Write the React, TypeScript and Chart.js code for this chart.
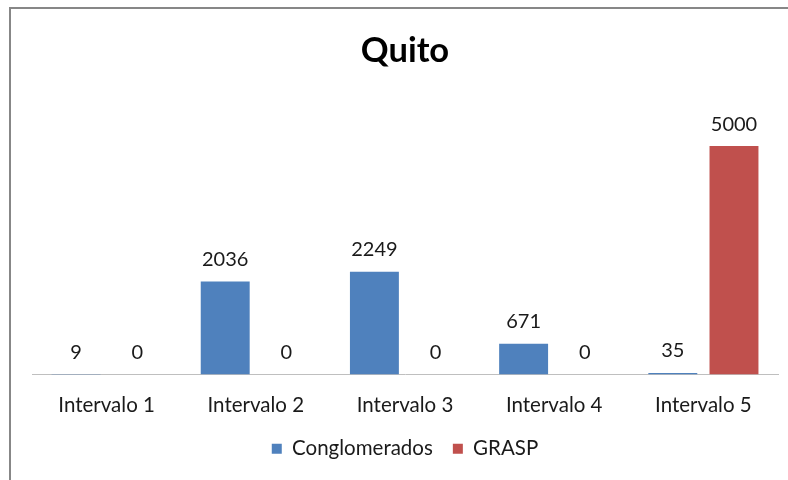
import React, { useEffect, useRef } from "react";
import { Chart, registerables } from "chart.js";

Chart.register(...registerables);

const categories = ["Intervalo 1", "Intervalo 2", "Intervalo 3", "Intervalo 4", "Intervalo 5"];
const conglomerados = [9, 2036, 2249, 671, 35];
const grasp = [0, 0, 0, 0, 5000];
const seriesNames = ["Conglomerados", "GRASP"];
const chartTitle = "Quito";

const FONT = "Lato, 'Noto Sans', sans-serif";

const valueLabels = {
  id: "valueLabels",
  afterDatasetsDraw(chart: any) {
    const ctx = chart.ctx;
    ctx.save();
    ctx.font = `20px ${FONT}`;
    ctx.fillStyle = "#1a1a1a";
    ctx.textAlign = "center";
    ctx.textBaseline = "middle";
    chart.data.datasets.forEach((ds: any, i: number) => {
      const meta = chart.getDatasetMeta(i);
      meta.data.forEach((el: any, j: number) => {
        ctx.fillText(String(ds.data[j]), el.x, el.y - 22);
      });
    });
    ctx.restore();
  },
};

export default function App() {
  const ref = useRef<HTMLCanvasElement>(null);
  useEffect(() => {
    if (!ref.current) return;
    const chart = new Chart(ref.current, {
      type: "bar",
      data: {
        labels: categories,
        datasets: [
          { label: seriesNames[0], data: conglomerados, backgroundColor: "#4F81BD" },
          { label: seriesNames[1], data: grasp, backgroundColor: "#C0504D" },
        ],
      },
      options: {
        responsive: false,
        animation: false,
        maintainAspectRatio: false,
        layout: { padding: { left: 21, right: 10, top: 0, bottom: 11 } },
        datasets: { bar: { categoryPercentage: 0.82, barPercentage: 0.8 } },
        plugins: {
          title: {
            display: true,
            text: chartTitle,
            color: "#000",
            font: { family: FONT, size: 34.5, weight: "bold" },
            padding: { top: 21, bottom: 29 },
          },
          legend: {
            position: "bottom",
            labels: {
              boxWidth: 10,
              boxHeight: 10,
              padding: 20,
              color: "#1a1a1a",
              font: { family: FONT, size: 20.5 },
            },
          },
          tooltip: { enabled: false },
        },
        scales: {
          x: {
            grid: { display: false },
            border: { display: true, color: "#BFBFBF", width: 1 },
            ticks: { color: "#1a1a1a", padding: 11, font: { family: FONT, size: 20.5 } },
            afterFit: (s: any) => { s.height = 44; },
          },
          y: {
            display: false,
            min: 0,
            max: 6000,
          },
        },
      },
      plugins: [valueLabels],
    });
    return () => chart.destroy();
  }, []);
  return (
    <div style={{ position: "fixed", left: 0, top: 0, width: 788, height: 480, overflow: "hidden", background: "#fff" }}>
      <div style={{ position: "absolute", left: 9, top: 7, width: 777, height: 471, borderLeft: "2px solid #878787", borderTop: "2px solid #878787" }}>
        <canvas ref={ref} width={777} height={471} style={{ display: "block" }} />
      </div>
    </div>
  );
}
